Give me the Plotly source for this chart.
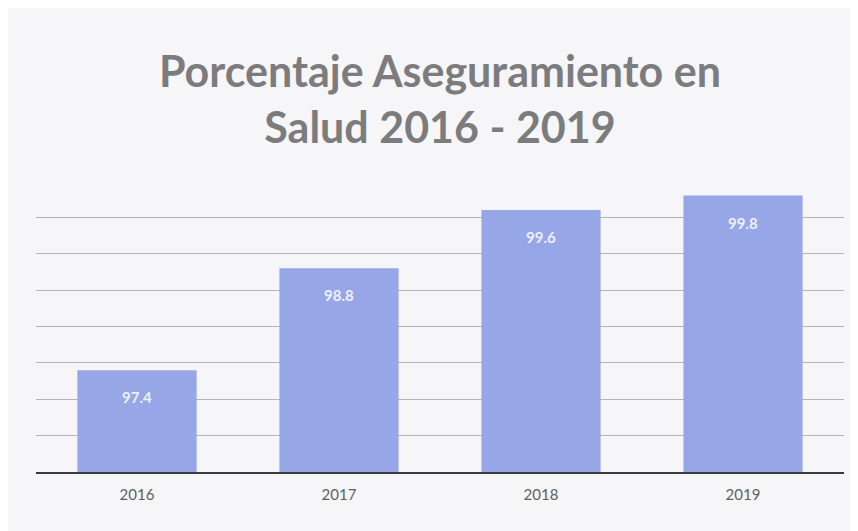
import plotly.graph_objects as go

years = ["2016", "2017", "2018", "2019"]
values = [97.4, 98.8, 99.6, 99.8]
value_labels = ["97.4", "98.8", "99.6", "99.8"]
title_lines = ["Porcentaje Aseguramiento en", "Salud 2016 - 2019"]

BAR = "#97a6e6"
BG = "#f6f6f8"
FONT = "Lato, Open Sans, sans-serif"

xpos = list(range(len(years)))

fig = go.Figure()
fig.add_trace(go.Bar(x=xpos, y=values, marker=dict(color=BAR, line=dict(width=0)),
                     width=0.59, hoverinfo="skip"))

for x, v, t in zip(xpos, values, value_labels):
    fig.add_annotation(x=x, y=v, text=t, showarrow=False, yshift=-27,
                       font=dict(family=FONT, size=15, color="#eef0fb", weight="bold"))

fig.add_annotation(xref="paper", yref="paper", x=0.5, y=1.285, xanchor="center", yanchor="middle",
                   text="<br>".join(title_lines), showarrow=False,
                   font=dict(family=FONT, size=43, color="#7c7c7e", weight="bold"))

fig.update_layout(
    width=858, height=531,
    paper_bgcolor=BG, plot_bgcolor=BG,
    margin=dict(l=28, r=22, t=173, b=67),
    showlegend=False,
    xaxis=dict(range=[-0.5, len(years) - 0.5], tickvals=xpos, ticktext=years,
               showline=True, linecolor="#3a3a3a", linewidth=2, ticks="", showgrid=False,
               zeroline=False,
               tickfont=dict(family=FONT, size=15, color="#606060"),
               ticklabelstandoff=8),
    yaxis=dict(range=[96, 100], dtick=0.5, showticklabels=False, showgrid=True,
               gridcolor="#b4b4b8", gridwidth=1, zeroline=False, showline=False),
)

fig.write_html("out.html")
